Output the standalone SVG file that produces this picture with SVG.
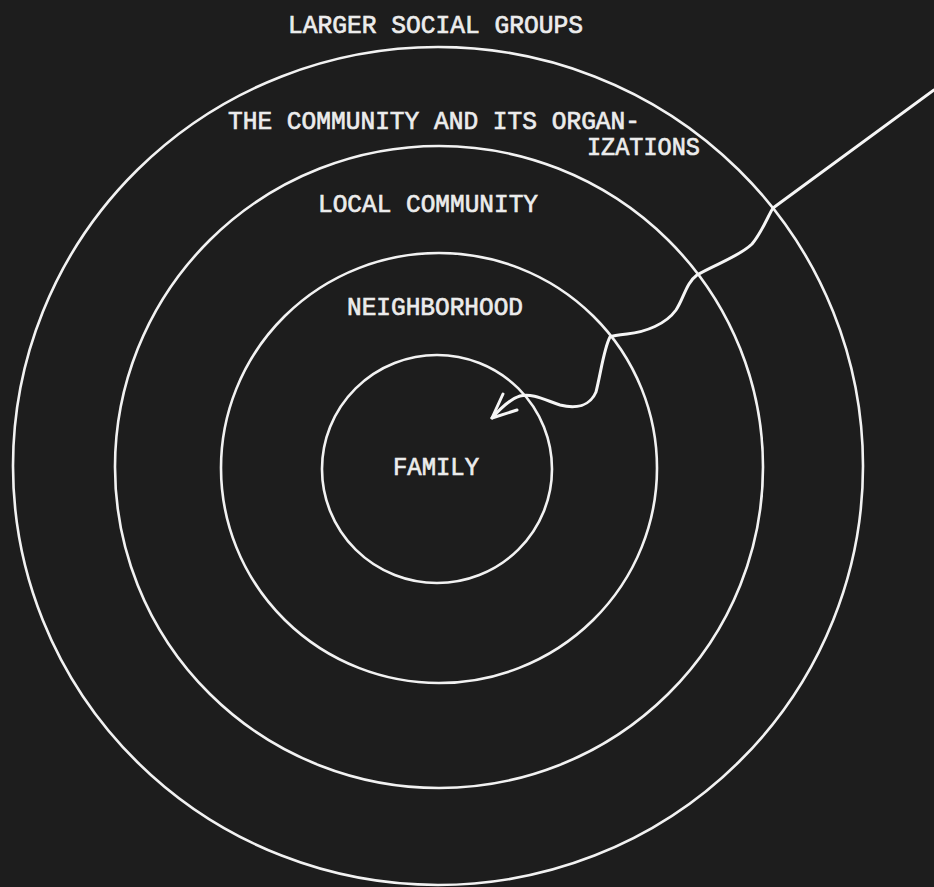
<svg xmlns="http://www.w3.org/2000/svg" width="934" height="887" viewBox="0 0 934 887">
  <style>
    .ring { fill: none; stroke: #f2f2f2; stroke-width: 2.6; }
    .lbl { font-family: "Liberation Mono", "Courier New", monospace; font-size: 26px; fill: #ececec; stroke: #ececec; stroke-width: 0.7; }
    .conn { fill: none; stroke: #f6f6f6; stroke-width: 3; stroke-linecap: round; stroke-linejoin: round; }
  </style>
  <rect x="0" y="0" width="934" height="887" fill="#1d1d1d"/>
  <g id="larger-social-groups">
    <ellipse class="ring" cx="438" cy="466" rx="425" ry="419"/>
    <text class="lbl" x="288" y="33" textLength="295" lengthAdjust="spacingAndGlyphs">LARGER SOCIAL GROUPS</text>
  </g>
  <g id="community-organizations">
    <ellipse class="ring" cx="439" cy="467" rx="324" ry="321"/>
    <text class="lbl" x="228" y="129" textLength="412" lengthAdjust="spacingAndGlyphs">THE COMMUNITY AND ITS ORGAN-</text>
    <text class="lbl" x="587" y="155" textLength="113" lengthAdjust="spacingAndGlyphs">IZATIONS</text>
  </g>
  <g id="local-community">
    <ellipse class="ring" cx="439" cy="468" rx="218" ry="215"/>
    <text class="lbl" x="318" y="212" textLength="220" lengthAdjust="spacingAndGlyphs">LOCAL COMMUNITY</text>
  </g>
  <g id="neighborhood">
    <text class="lbl" x="347" y="315" textLength="176" lengthAdjust="spacingAndGlyphs">NEIGHBORHOOD</text>
  </g>
  <g id="family">
    <ellipse class="ring" cx="437" cy="469" rx="115" ry="114"/>
    <text class="lbl" x="393" y="475" textLength="86" lengthAdjust="spacingAndGlyphs">FAMILY</text>
  </g>
  <g id="connectors">
    <path class="conn" d="M934,90 L773,208 C768,216 762,232 752,244 C740,256 716,264 697,275 C686,283 684,298 676,310 C666,324 646,332 627,334 C618,335 612,336 610,337 C604,348 601,372 596,392 C590,406 576,409 560,405 C545,400 532,393 520,396 C510,399 500,409 492,418"/>
    <polyline class="conn" points="503,394 492,418 517,410"/>
  </g>
</svg>
